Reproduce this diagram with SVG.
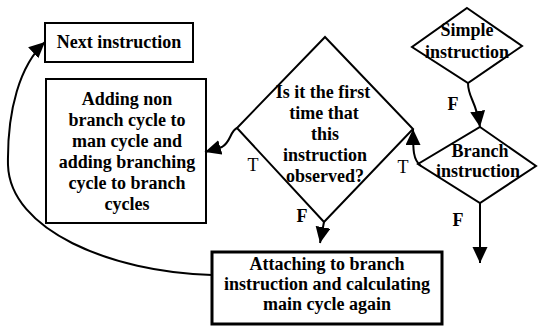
<svg xmlns="http://www.w3.org/2000/svg" width="539" height="327" viewBox="0 0 539 327">
  <style>
    .box { fill: #fff; stroke: #000; stroke-width: 2; }
    .thick { stroke-width: 3; }
    .dia { fill: #fff; stroke: #000; stroke-width: 2; }
    .txt { font-family: "Liberation Serif", "Times New Roman", serif; font-size: 18px; font-weight: bold; fill: #000; text-anchor: middle; }
    .lbl { font-family: "Liberation Serif", "Times New Roman", serif; font-size: 18px; fill: #000; text-anchor: middle; }
    .edge { fill: none; stroke: #000; stroke-width: 2; }
  </style>
  <defs>
    <marker id="arrow" markerUnits="userSpaceOnUse" markerWidth="17" markerHeight="16" refX="16" refY="7.5" orient="auto">
      <path d="M0,0 L16,7.5 L0,15 z" fill="#000"/>
    </marker>
  </defs>
  <rect width="539" height="327" fill="#fff"/>

  <g id="next-instruction">
    <rect class="box" x="45" y="23" width="148" height="39"/>
    <text class="txt" x="119" y="48">Next instruction</text>
  </g>

  <g id="adding-cycles">
    <rect class="box" x="46" y="79" width="160" height="144"/>
    <text class="txt" x="127" y="105">Adding non</text>
    <text class="txt" x="127" y="126">branch cycle to</text>
    <text class="txt" x="127" y="147">man cycle and</text>
    <text class="txt" x="127" y="168">adding branching</text>
    <text class="txt" x="127" y="189">cycle to branch</text>
    <text class="txt" x="127" y="210">cycles</text>
  </g>

  <g id="first-time">
    <polygon class="dia" points="325,37 413,129 324,222 237,128"/>
    <text class="txt" x="323" y="98">Is it the first</text>
    <text class="txt" x="324" y="119">time that</text>
    <text class="txt" x="325" y="140">this</text>
    <text class="txt" x="325" y="161">instruction</text>
    <text class="txt" x="325" y="182">observed?</text>
  </g>

  <g id="simple-instruction">
    <polygon class="dia" points="467,8 522,46 468,83 412,47"/>
    <text class="txt" x="467" y="36">Simple</text>
    <text class="txt" x="467" y="58">instruction</text>
  </g>

  <g id="branch-instruction">
    <polygon class="dia" points="480,127 536,166 480,203 418,164"/>
    <text class="txt" x="480" y="157">Branch</text>
    <text class="txt" x="478" y="177">instruction</text>
  </g>

  <g id="attaching">
    <rect class="box thick" x="212" y="252" width="230" height="72"/>
    <text class="txt" x="327" y="270">Attaching to branch</text>
    <text class="txt" x="327" y="290">instruction and calculating</text>
    <text class="txt" x="327" y="310">main cycle again</text>
  </g>

  <g id="connectors">
    <path class="edge" d="M468,83 C468,98 476,100 480,127" marker-end="url(#arrow)"/>
    <path class="edge" d="M421,166 C413,160 413,150 413,129" marker-end="url(#arrow)"/>
    <path class="edge" d="M237,128 C230,131 231,142 222,147 L205,152" marker-end="url(#arrow)"/>
    <path class="edge" d="M324,222 L320,243" marker-end="url(#arrow)"/>
    <path class="edge" d="M480,203 L480,263" marker-end="url(#arrow)"/>
    <path class="edge" d="M212,275 C110,272 10,230 8,165 C7,110 20,65 45,42" marker-end="url(#arrow)"/>
    <text class="lbl" x="453" y="110" font-weight="bold">F</text>
    <text class="lbl" x="403" y="173">T</text>
    <text class="lbl" x="253" y="171">T</text>
    <text class="lbl" x="302" y="222" font-weight="bold">F</text>
    <text class="lbl" x="458" y="226" font-weight="bold">F</text>
  </g>
</svg>
